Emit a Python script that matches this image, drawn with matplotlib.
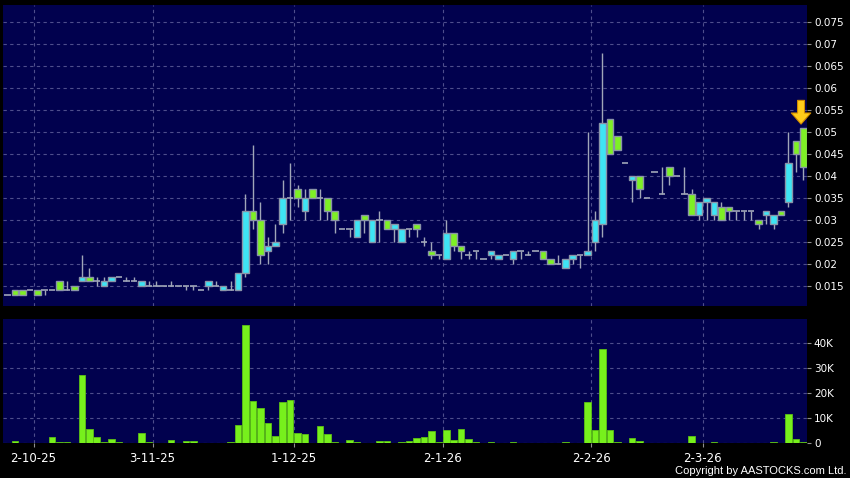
import matplotlib
matplotlib.use("Agg")
import matplotlib.pyplot as plt

# daily OHLC (oldest first)
opens = [0.013, 0.014, 0.014, 0.014, 0.014, 0.014, 0.014, 0.016, 0.014, 0.015,
         0.016, 0.017, 0.016, 0.015, 0.016, 0.017, 0.016, 0.016, 0.015, 0.015,
         0.015, 0.015, 0.015, 0.015, 0.015, 0.015, 0.014, 0.015, 0.015, 0.014,
         0.014, 0.014, 0.018, 0.032, 0.030, 0.023, 0.024, 0.029, 0.035, 0.037,
         0.032, 0.037, 0.035, 0.035, 0.032, 0.028, 0.028, 0.026, 0.031, 0.025,
         0.030, 0.030, 0.028, 0.025, 0.028, 0.029, 0.025, 0.023, 0.022, 0.021,
         0.027, 0.024, 0.022, 0.023, 0.021, 0.022, 0.021, 0.022, 0.021, 0.023,
         0.022, 0.023, 0.023, 0.021, 0.020, 0.019, 0.021, 0.022, 0.022, 0.025,
         0.029, 0.053, 0.049, 0.043, 0.039, 0.040, 0.035, 0.041, 0.036, 0.042,
         0.040, 0.036, 0.036, 0.031, 0.034, 0.031, 0.033, 0.033, 0.032, 0.032,
         0.032, 0.030, 0.031, 0.029, 0.032, 0.034, 0.048, 0.051]
highs = [0.013, 0.014, 0.014, 0.014, 0.014, 0.014, 0.014, 0.016, 0.016, 0.015,
         0.022, 0.019, 0.017, 0.017, 0.017, 0.017, 0.017, 0.017, 0.016, 0.016,
         0.016, 0.015, 0.016, 0.015, 0.015, 0.015, 0.014, 0.016, 0.016, 0.015,
         0.016, 0.018, 0.036, 0.047, 0.034, 0.026, 0.029, 0.039, 0.043, 0.038,
         0.037, 0.037, 0.037, 0.035, 0.032, 0.028, 0.028, 0.030, 0.031, 0.030,
         0.032, 0.030, 0.029, 0.028, 0.028, 0.029, 0.026, 0.025, 0.022, 0.030,
         0.027, 0.024, 0.023, 0.023, 0.021, 0.023, 0.022, 0.022, 0.023, 0.023,
         0.023, 0.023, 0.023, 0.021, 0.022, 0.021, 0.022, 0.022, 0.050, 0.032,
         0.068, 0.053, 0.049, 0.043, 0.040, 0.040, 0.035, 0.041, 0.042, 0.042,
         0.040, 0.042, 0.037, 0.034, 0.035, 0.034, 0.034, 0.033, 0.032, 0.032,
         0.032, 0.030, 0.032, 0.031, 0.032, 0.050, 0.048, 0.051]
lows = [0.013, 0.013, 0.013, 0.014, 0.013, 0.013, 0.014, 0.014, 0.014, 0.014,
        0.016, 0.016, 0.015, 0.015, 0.016, 0.017, 0.016, 0.016, 0.015, 0.015,
        0.015, 0.015, 0.015, 0.015, 0.014, 0.014, 0.014, 0.014, 0.015, 0.014,
        0.014, 0.014, 0.017, 0.028, 0.020, 0.020, 0.024, 0.027, 0.030, 0.033,
        0.030, 0.035, 0.030, 0.030, 0.027, 0.028, 0.026, 0.026, 0.027, 0.025,
        0.025, 0.028, 0.025, 0.025, 0.026, 0.026, 0.024, 0.021, 0.021, 0.021,
        0.023, 0.021, 0.021, 0.021, 0.021, 0.021, 0.021, 0.022, 0.020, 0.021,
        0.022, 0.023, 0.021, 0.020, 0.020, 0.019, 0.020, 0.019, 0.022, 0.023,
        0.026, 0.045, 0.046, 0.043, 0.034, 0.035, 0.035, 0.041, 0.036, 0.038,
        0.040, 0.036, 0.031, 0.030, 0.030, 0.030, 0.030, 0.030, 0.030, 0.030,
        0.030, 0.028, 0.029, 0.028, 0.031, 0.033, 0.041, 0.039]
closes = [0.013, 0.013, 0.013, 0.014, 0.013, 0.014, 0.014, 0.014, 0.014, 0.014,
          0.017, 0.016, 0.016, 0.016, 0.017, 0.017, 0.016, 0.016, 0.016, 0.015,
          0.015, 0.015, 0.015, 0.015, 0.015, 0.015, 0.014, 0.016, 0.015, 0.015,
          0.014, 0.018, 0.032, 0.030, 0.022, 0.024, 0.025, 0.035, 0.035, 0.035,
          0.035, 0.035, 0.035, 0.032, 0.030, 0.028, 0.028, 0.030, 0.030, 0.030,
          0.030, 0.028, 0.029, 0.028, 0.028, 0.028, 0.025, 0.022, 0.022, 0.027,
          0.024, 0.023, 0.022, 0.023, 0.021, 0.023, 0.022, 0.022, 0.023, 0.023,
          0.022, 0.023, 0.021, 0.020, 0.020, 0.021, 0.022, 0.022, 0.023, 0.030,
          0.052, 0.045, 0.046, 0.043, 0.040, 0.037, 0.035, 0.041, 0.036, 0.040,
          0.040, 0.036, 0.031, 0.034, 0.035, 0.034, 0.030, 0.032, 0.032, 0.032,
          0.032, 0.029, 0.032, 0.031, 0.031, 0.043, 0.045, 0.042]

# volume in thousands of shares
volume_k = [0, 0.9, 0.2, 0, 0, 0, 2.5, 0.4, 0.4, 0.3,
            27.2, 5.7, 2.5, 0.7, 1.6, 0.4, 0.1, 0.1, 4.0, 0.4,
            0, 0, 1.2, 0, 1.1, 0.8, 0, 0.1, 0, 0,
            0.4, 7.5, 47.2, 16.9, 14.0, 8.1, 2.8, 16.5, 17.2, 4.0,
            3.6, 0, 7.1, 3.6, 0.5, 0.1, 1.3, 0.4, 0, 0,
            0.9, 0.9, 0, 0.4, 0.9, 2.0, 2.7, 4.8, 0.4, 5.3,
            1.5, 5.6, 1.6, 0.5, 0, 0.4, 0, 0, 0.7, 0,
            0.3, 0, 0, 0, 0.2, 0.4, 0, 0, 16.5, 5.5,
            37.9, 5.5, 0.4, 0, 2.0, 0.9, 0, 0, 0.3, 0.3,
            0, 0, 2.9, 0.3, 0, 0.4, 0, 0, 0, 0,
            0, 0, 0.3, 0.4, 0, 11.9, 1.7, 0.5]

date_labels = ['2-10-25', '3-11-25', '1-12-25', '2-1-26', '2-2-26', '2-3-26']
date_slots = [3.5, 19.5, 38.5, 58.5, 78.5, 93.5]
price_ticks = [0.015, 0.02, 0.025, 0.03, 0.035, 0.04, 0.045, 0.05, 0.055,
               0.06, 0.065, 0.07, 0.075]
price_tick_labels = ['0.015', '0.02', '0.025', '0.03', '0.035', '0.04', '0.045',
                     '0.05', '0.055', '0.06', '0.065', '0.07', '0.075']
vol_ticks = [0, 10, 20, 30, 40]
vol_tick_labels = ['0', '10K', '20K', '30K', '40K']

BG = '#000000'
PANEL = '#01014e'
GRID = '#4e4e8c'
UP = '#3ee4f4'
DOWN = '#7ef025'
EDGE = '#8a94a8'
WICK = '#a0a6b8'
VOL = '#77f01c'

fig = plt.figure(figsize=(8.5, 4.78), dpi=100, facecolor=BG)
ax = fig.add_axes([0.0041, 0.3598, 0.9453, 0.6297], facecolor=PANEL)
axv = fig.add_axes([0.0041, 0.0726, 0.9453, 0.2600], facecolor=PANEL)

x = list(range(len(opens)))
w = 0.88

# wicks
ax.vlines(x, lows, highs, color=WICK, lw=1, zorder=2)

up_x = [i for i in x if closes[i] > opens[i]]
dn_x = [i for i in x if closes[i] < opens[i]]
flat_x = [i for i in x if closes[i] == opens[i]]

ax.bar(up_x, [closes[i] - opens[i] for i in up_x], bottom=[opens[i] for i in up_x],
       width=w, color=UP, edgecolor=EDGE, lw=1, zorder=3)
ax.bar(dn_x, [opens[i] - closes[i] for i in dn_x], bottom=[closes[i] for i in dn_x],
       width=w, color=DOWN, edgecolor=EDGE, lw=1, zorder=3)
ax.hlines([opens[i] for i in flat_x], [i - w / 2 for i in flat_x],
          [i + w / 2 for i in flat_x], color=WICK, lw=1.2, zorder=3)

# arrow marking the latest bar
ax.annotate('', xy=(x[-1] - 0.3, highs[-1] + 0.0008),
            xytext=(x[-1] - 0.3, highs[-1] + 0.0062),
            arrowprops=dict(facecolor='#ffcc1a', edgecolor='#d08a00', lw=0.8,
                            width=5, headwidth=14, headlength=8),
            zorder=5)

ax.set_xlim(-0.54, 107.5)
ax.set_ylim(0.0104, 0.0789)

axv.bar(x, volume_k, width=w, color=VOL, edgecolor='#5cc014', lw=0.6, zorder=3)
axv.set_xlim(-0.54, 107.5)
axv.set_ylim(0, 49.7)

for a in (ax, axv):
    for s in a.spines.values():
        s.set_visible(False)
    a.yaxis.tick_right()
    a.tick_params(axis='y', colors='white', labelsize=7.5, length=3, width=0.8,
                  pad=2, direction='out')
    a.tick_params(axis='y', color='#909090')
    a.grid(True, axis='y', color=GRID, ls=(0, (3, 3)), lw=0.8, zorder=0)
    for xs in date_slots:
        a.axvline(xs, color=GRID, ls=(0, (3, 3)), lw=0.8, zorder=0)

ax.set_yticks(price_ticks)
ax.set_yticklabels(price_tick_labels)
ax.set_xticks([])

axv.set_yticks(vol_ticks)
axv.set_yticklabels(vol_tick_labels)
axv.set_xticks(date_slots)
axv.set_xticklabels(date_labels)
axv.tick_params(axis='x', colors='white', labelsize=8.5, length=3, width=0.8,
                pad=3)
axv.tick_params(axis='x', color='#909090')

fig.text(0.996, 0.004, 'Copyright by AASTOCKS.com Ltd.', color='white',
         fontsize=8, family='Liberation Sans', ha='right', va='bottom')

fig.savefig('out.png', dpi=100, facecolor=BG)
